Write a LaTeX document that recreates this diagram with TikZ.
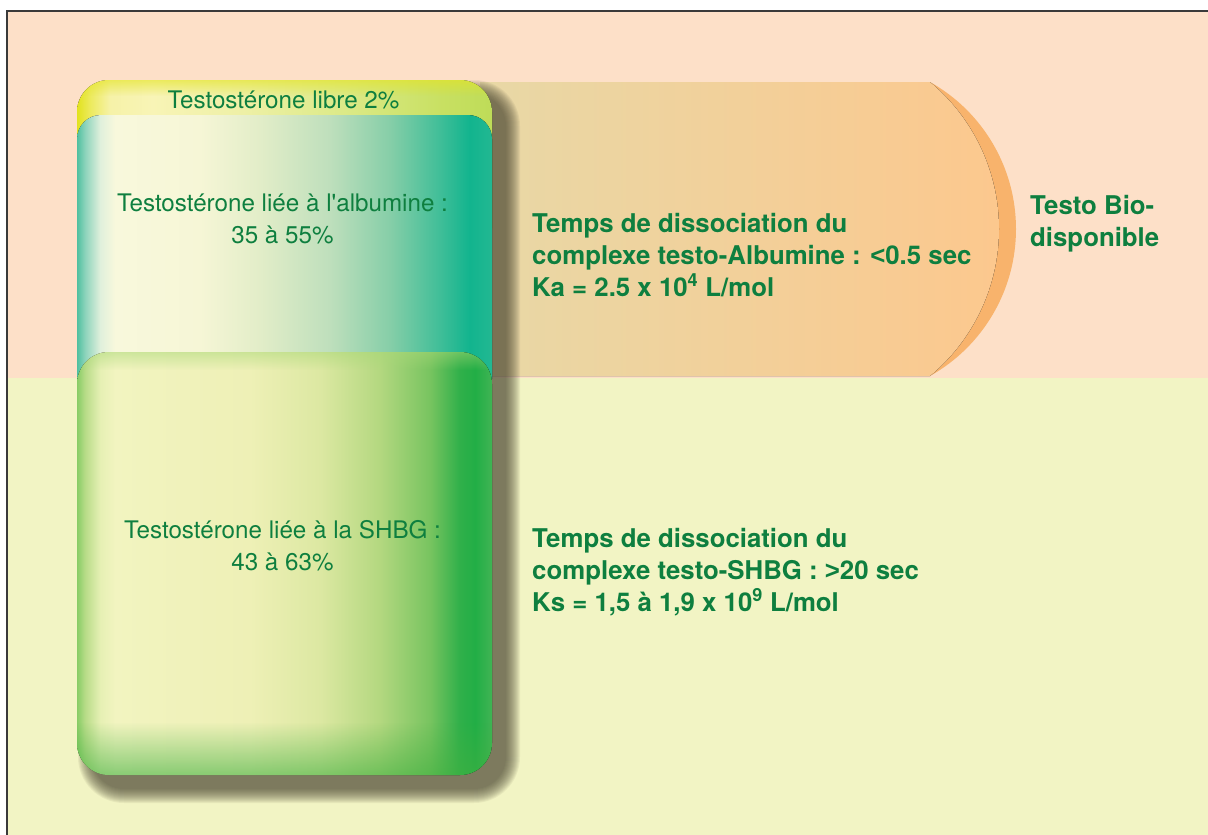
\documentclass[tikz,border=0pt]{standalone}
\usepackage{fontspec}
\setmainfont{TeX Gyre Heros}
\newfontfamily\symfont{Liberation Sans}
\usetikzlibrary{fadings}
\definecolor{peach}{HTML}{FDE0C8}
\definecolor{paleyel}{HTML}{F2F4C4}
\definecolor{txtgreen}{HTML}{0E7F3F}
\definecolor{shadowc}{HTML}{4A4632}
\definecolor{arrowL}{HTML}{E8D8A6}
\definecolor{arrowR}{HTML}{FCC88E}
\definecolor{arrowD}{HTML}{F8B36C}
\definecolor{framec}{HTML}{3A3A3A}
\definecolor{shbgbot}{HTML}{40B040}
\definecolor{shbgtop}{HTML}{A8D878}
\definecolor{freetop}{HTML}{E4E424}
% albumin
\definecolor{aA}{HTML}{4FC0A0}\definecolor{aB}{HTML}{8ED4BC}\definecolor{aC}{HTML}{E0F0DC}
\definecolor{aD}{HTML}{F8F8DC}\definecolor{aE}{HTML}{F6F6D6}\definecolor{aF}{HTML}{E2EDC8}
\definecolor{aG}{HTML}{BEDFBC}\definecolor{aH}{HTML}{86CEA8}\definecolor{aI}{HTML}{40BE98}
\definecolor{aJ}{HTML}{12B48E}\definecolor{aK}{HTML}{22B892}
% shbg
\definecolor{sA}{HTML}{88CC66}\definecolor{sB}{HTML}{B8DC88}\definecolor{sC}{HTML}{E6F0B4}
\definecolor{sD}{HTML}{F2F4C0}\definecolor{sE}{HTML}{EEF0B6}\definecolor{sF}{HTML}{DCE8A2}
\definecolor{sG}{HTML}{B4D880}\definecolor{sH}{HTML}{78C460}\definecolor{sI}{HTML}{30B04A}
\definecolor{sJ}{HTML}{22AE46}\definecolor{sK}{HTML}{40B454}
% free
\definecolor{fA}{HTML}{E2E21E}\definecolor{fB}{HTML}{ECEA5A}\definecolor{fC}{HTML}{F6F2A8}
\definecolor{fD}{HTML}{F8F4B6}\definecolor{fE}{HTML}{EEF0A6}\definecolor{fF}{HTML}{DCEA88}
\definecolor{fG}{HTML}{C8E062}\definecolor{fH}{HTML}{BEDC58}

\pgfdeclarehorizontalshading{albshade}{100bp}{color(0bp)=(aA); color(25bp)=(aA); color(26bp)=(aB);
 color(27.8bp)=(aC); color(29.6bp)=(aD); color(39.8bp)=(aE); color(47bp)=(aF); color(55.5bp)=(aG);
 color(62.7bp)=(aH); color(68.7bp)=(aI); color(72.3bp)=(aJ); color(75bp)=(aK); color(100bp)=(aK)}
\pgfdeclarehorizontalshading{shbgshade}{100bp}{color(0bp)=(sA); color(25bp)=(sA); color(26bp)=(sB);
 color(27.8bp)=(sC); color(29.6bp)=(sD); color(45.8bp)=(sE); color(54.3bp)=(sF); color(61.4bp)=(sG);
 color(67.5bp)=(sH); color(71.1bp)=(sI); color(73bp)=(sJ); color(75bp)=(sK); color(100bp)=(sK)}
\pgfdeclarehorizontalshading{freeshade}{100bp}{color(0bp)=(fA); color(25bp)=(fA); color(26.5bp)=(fB);
 color(29bp)=(fC); color(34bp)=(fD); color(45bp)=(fE); color(57bp)=(fF); color(69bp)=(fG);
 color(75bp)=(fH); color(100bp)=(fH)}

\tikzset{
  reglabel/.style={font=\fontsize{24.2}{31.5}\selectfont, text=txtgreen, inner sep=0pt, align=center},
  boldlabel/.style={font=\fontsize{25.8}{32}\selectfont\bfseries, text=txtgreen, inner sep=0pt, align=left},
}

\begin{document}
\begin{tikzpicture}[x=1pt,y=-1pt]
\useasboundingbox (0,0) rectangle (1208,835);
% background
\fill[white] (0,0) rectangle (1208,835);
\fill[peach] (7,11) rectangle (1208,378);
\fill[paleyel] (7,378) rectangle (1208,835);
\draw[framec, line width=1.3pt] (7,835) -- (7,11) -- (1208,11);

% orange arrow (dark crescent behind, then body)
\fill[arrowD] (930,82) .. controls (983.2,111.9) and (1016,168) .. (1016,229)
   .. controls (1016,290) and (983.2,346.1) .. (930,376) -- cycle;
\fill[left color=arrowL, right color=arrowR] (480,82) -- (930,82)
   .. controls (973.7,118.3) and (999,172.2) .. (999,229)
   .. controls (999,285.8) and (973.7,339.7) .. (930,376) -- (480,376) -- cycle;

% blurred shadow of the box
\foreach \i in {0,...,14}{
  \pgfmathsetmacro\rr{32+\i}
  \fill[shadowc, opacity=0.07, rounded corners=\rr pt] (92-\i,94-\i) rectangle (506+\i,789+\i);
}

% free testosterone band (outer top)
\fill[shading=freeshade, rounded corners=32pt] (77,80) rectangle (492,260);
\begin{scope}
  \clip[rounded corners=32pt] (77,80) rectangle (492,260);
  \fill[freetop, opacity=0.6, path fading=south] (77,80) rectangle (492,96);
\end{scope}

% albumin section
\begin{scope}
  \clip (0,0) rectangle (1208,378);
  \fill[shading=albshade, rounded corners=24pt] (77,115) rectangle (492,430);
\end{scope}

% SHBG section
\fill[shading=shbgshade, rounded corners=32pt] (77,352) rectangle (492,775);
\begin{scope}
  \clip[rounded corners=32pt] (77,352) rectangle (492,775);
  \fill[shbgbot, opacity=0.6, path fading=north] (77,722) rectangle (492,776);
  \fill[shbgtop, opacity=0.5, path fading=south] (77,352) rectangle (492,370);
\end{scope}

% texts (base anchor = baseline of the last line)
\node[reglabel, anchor=base] (libre) at (283.5,108) {Testostérone libre 2\%};
\node[reglabel, anchor=base] (alb) at (282.5,243) {Testostérone liée à l\textquotesingle albumine :\\35 à 55\%};
\node[reglabel, anchor=base] (shbg) at (282.5,570) {Testostérone liée à la SHBG :\\43 à 63\%};
\node[boldlabel, anchor=base west] (albtxt) at (532,296)
  {Temps de dissociation du\\complexe testo-Albumine : {\symfont <}0.5 sec\\Ka = 2.5 x 10\textsuperscript{4} L/mol};
\node[boldlabel, anchor=base west] (bio) at (1030,246) {Testo Bio-\\disponible};
\node[boldlabel, anchor=base west] (shbgtxt) at (532,611)
  {Temps de dissociation du\\complexe testo-SHBG : {\symfont >}20 sec\\Ks = 1,5 à 1,9 x 10\textsuperscript{9} L/mol};
\end{tikzpicture}
\end{document}
